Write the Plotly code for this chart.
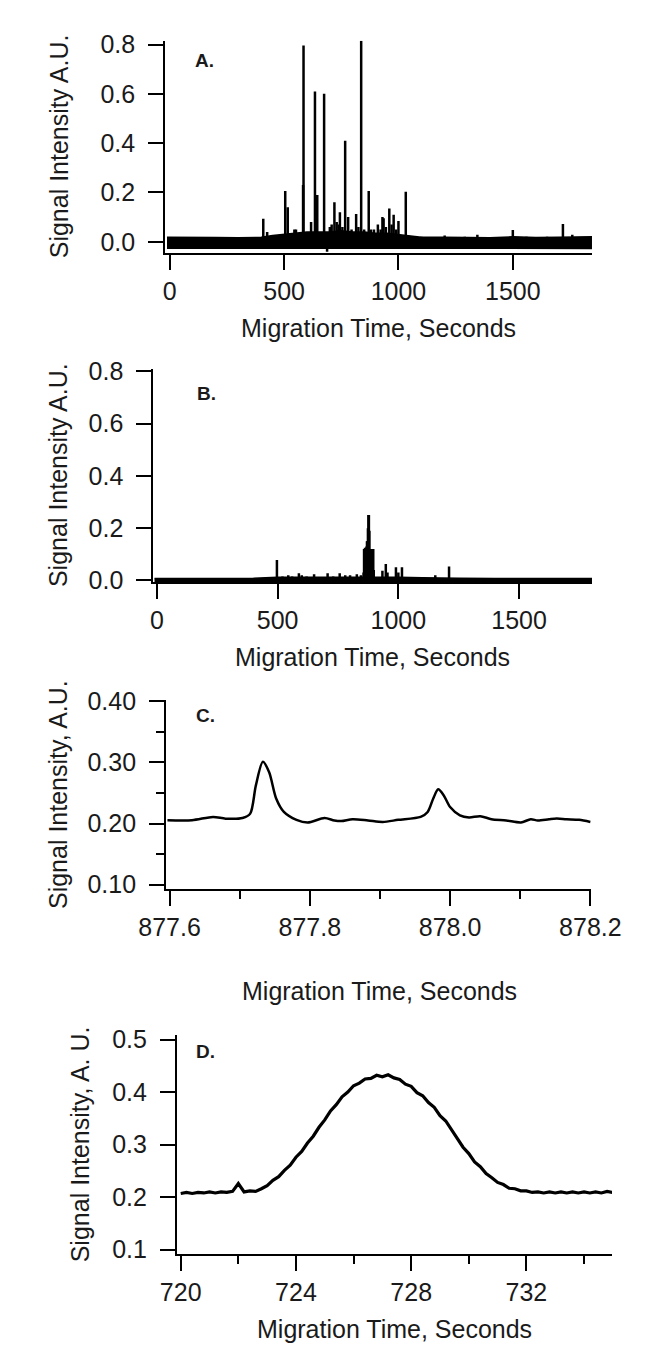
import plotly.graph_objects as go

W, H = 645, 1345
FONT = "Liberation Sans, Arial, sans-serif"
TXT = "#1a1a1a"

# ---------------- Panel A data ----------------
a_peak_t = [409, 426, 505, 516, 545, 552, 583, 585, 603, 618, 635, 645, 660, 675, 688,
            700, 708, 720, 730, 740, 744, 755, 767, 780, 795, 815, 825, 837, 850, 858,
            870, 880, 893, 910, 922, 930, 935, 945, 960, 970, 979, 990, 1000, 1032,
            1100, 1202, 1290, 1345, 1500, 1560, 1650, 1719, 1760]
a_peak_h = [0.093, 0.040, 0.206, 0.140, 0.050, 0.050, 0.230, 0.796, 0.040, 0.080, 0.610, 0.190, 0.040, 0.600, -0.040,
            0.060, 0.070, 0.160, 0.080, 0.070, 0.120, 0.060, 0.410, 0.100, 0.050, 0.113, 0.060, 0.816, 0.050, 0.040,
            0.206, 0.050, 0.050, 0.070, 0.050, 0.100, 0.095, 0.060, 0.135, 0.070, 0.110, 0.050, 0.084, 0.203,
            0.020, 0.025, 0.020, 0.028, 0.048, 0.020, 0.020, 0.072, 0.028]
a_env_t = [-12, 100, 200, 300, 400, 450, 500, 550, 600, 650, 700, 750, 800, 850, 900, 950,
           1000, 1050, 1100, 1200, 1300, 1400, 1500, 1600, 1700, 1800, 1846]
a_env_hi = [0.018, 0.016, 0.017, 0.016, 0.018, 0.025, 0.030, 0.035, 0.040, 0.040, 0.040, 0.045, 0.040, 0.040, 0.035, 0.035,
            0.030, 0.022, 0.018, 0.018, 0.018, 0.016, 0.020, 0.017, 0.018, 0.020, 0.020]
a_env_lo = [-0.026, -0.027, -0.026, -0.027, -0.026, -0.027, -0.028, -0.028, -0.028, -0.027, -0.028, -0.028, -0.027, -0.028, -0.027, -0.027,
            -0.026, -0.027, -0.026, -0.027, -0.026, -0.027, -0.026, -0.027, -0.026, -0.027, -0.027]

# ---------------- Panel B data ----------------
b_peak_t = [497, 520, 544, 560, 588, 600, 620, 651, 680, 707, 730, 757, 780, 800, 828, 845,
            856, 858, 860, 862, 864, 866, 868, 870, 872, 874, 876, 878, 880, 882, 884, 886, 888, 890, 892, 894, 896, 898,
            934, 948, 955, 990, 1000, 1015, 1050, 1100, 1153, 1210, 1650]
b_peak_h = [0.078, 0.015, 0.020, 0.015, 0.027, 0.020, 0.015, 0.024, 0.012, 0.027, 0.015, 0.027, 0.020, 0.020, 0.024, 0.020,
            0.030, 0.120, 0.120, 0.125, 0.120, 0.122, 0.130, 0.150, 0.150, 0.200, 0.250, 0.250, 0.190, 0.120, 0.120, 0.118, 0.120, 0.110, 0.120, 0.118, 0.120, 0.040,
            0.037, 0.063, 0.030, 0.050, 0.030, 0.050, 0.010, 0.008, 0.020, 0.053, 0.006]
b_env_t = [-10, 200, 400, 450, 500, 600, 700, 800, 900, 1000, 1100, 1200, 1250, 1400, 1600, 1802]
b_env_hi = [0.007, 0.007, 0.008, 0.010, 0.012, 0.012, 0.012, 0.014, 0.014, 0.012, 0.010, 0.010, 0.008, 0.007, 0.007, 0.007]
b_env_lo = [-0.012, -0.012, -0.012, -0.012, -0.012, -0.012, -0.012, -0.012, -0.012, -0.012, -0.012, -0.012, -0.012, -0.012, -0.012, -0.012]

# ---------------- Panel C data ----------------
c_t = [877.597, 877.632, 877.662, 877.680, 877.704, 877.715, 877.723, 877.733, 877.742, 877.752,
       877.763, 877.781, 877.797, 877.821, 877.835, 877.845, 877.861, 877.883, 877.904, 877.926,
       877.958, 877.968, 877.976, 877.983, 877.991, 878.000, 878.014, 878.027, 878.043, 878.059,
       878.080, 878.101, 878.115, 878.125, 878.141, 878.152, 878.166, 878.184, 878.200]
c_v = [0.2054, 0.2054, 0.2108, 0.2080, 0.2090, 0.2162, 0.2620, 0.3010, 0.2840, 0.2410,
       0.2190, 0.2060, 0.2017, 0.2090, 0.2050, 0.2040, 0.2070, 0.2050, 0.2026, 0.2060,
       0.2108, 0.2189, 0.2410, 0.2560, 0.2460, 0.2270, 0.2135, 0.2100, 0.2120, 0.2070,
       0.2050, 0.2017, 0.2070, 0.2050, 0.2070, 0.2081, 0.2070, 0.2060, 0.2026]

# ---------------- Panel D data ----------------
d_t = [720.0, 720.2, 720.4, 720.6, 720.8, 721.0, 721.2, 721.4, 721.6, 721.8,
       722.0, 722.2, 722.4, 722.6, 722.8, 723.0, 723.2, 723.4, 723.6, 723.8,
       724.0, 724.2, 724.4, 724.6, 724.8, 725.0, 725.2, 725.4, 725.6, 725.8,
       726.0, 726.2, 726.4, 726.6, 726.8, 727.0, 727.2, 727.4, 727.6, 727.8,
       728.0, 728.2, 728.4, 728.6, 728.8, 729.0, 729.2, 729.4, 729.6, 729.8,
       730.0, 730.2, 730.4, 730.6, 730.8, 731.0, 731.2, 731.4, 731.6, 731.8,
       732.0, 732.2, 732.4, 732.6, 732.8, 733.0, 733.2, 733.4, 733.6, 733.8,
       734.0, 734.2, 734.4, 734.6, 734.8, 735.0]
d_v = [0.207, 0.209, 0.207, 0.209, 0.208, 0.210, 0.208, 0.210, 0.209, 0.211,
       0.226, 0.210, 0.212, 0.211, 0.216, 0.222, 0.232, 0.239, 0.251, 0.261,
       0.276, 0.287, 0.303, 0.316, 0.333, 0.347, 0.364, 0.376, 0.391, 0.400,
       0.412, 0.417, 0.425, 0.426, 0.432, 0.429, 0.433, 0.427, 0.424, 0.415,
       0.411, 0.399, 0.393, 0.380, 0.371, 0.355, 0.345, 0.328, 0.312, 0.295,
       0.283, 0.267, 0.258, 0.245, 0.237, 0.228, 0.224, 0.217, 0.216, 0.212,
       0.212, 0.209, 0.210, 0.208, 0.210, 0.208, 0.210, 0.208, 0.210, 0.208,
       0.210, 0.208, 0.210, 0.208, 0.211, 0.209]

# ---------------- tick labels ----------------
ab_xticks = [0, 500, 1000, 1500]
ab_yticks = [0.0, 0.2, 0.4, 0.6, 0.8]
c_xticks = [877.6, 877.8, 878.0, 878.2]
c_xminor = [877.7, 877.9, 878.1]
c_yticks = [0.10, 0.20, 0.30, 0.40]
c_yminor = [0.15, 0.25, 0.35]
d_xticks = [720, 724, 728, 732]
d_xminor = [722, 726, 730, 734]
d_yticks = [0.1, 0.2, 0.3, 0.4, 0.5]

x_title = "Migration Time, Seconds"
y_titles = ["Signal Intensity A.U.", "Signal Intensity A.U.",
            "Signal Intensity, A.U.", "Signal Intensity, A. U."]
panel_labels = ["A.", "B.", "C.", "D."]


def sticks(ts, hs):
    xs, ys = [], []
    for t, h in zip(ts, hs):
        xs += [t, t, None]
        ys += [0, h, None]
    return xs, ys


def band(ts, hi, lo):
    return list(ts) + list(ts)[::-1], list(hi) + list(lo)[::-1]


fig = go.Figure()

# A
bx, by = band(a_env_t, a_env_hi, a_env_lo)
fig.add_trace(go.Scatter(x=bx, y=by, fill="toself", fillcolor="black", mode="lines",
                         line=dict(color="black", width=1.5), xaxis="x", yaxis="y", hoverinfo="skip"))
sx, sy = sticks(a_peak_t, a_peak_h)
fig.add_trace(go.Scatter(x=sx, y=sy, mode="lines", line=dict(color="black", width=2.5),
                         xaxis="x", yaxis="y"))
# B
bx, by = band(b_env_t, b_env_hi, b_env_lo)
fig.add_trace(go.Scatter(x=bx, y=by, fill="toself", fillcolor="black", mode="lines",
                         line=dict(color="black", width=1.5), xaxis="x2", yaxis="y2", hoverinfo="skip"))
sx, sy = sticks(b_peak_t, b_peak_h)
fig.add_trace(go.Scatter(x=sx, y=sy, mode="lines", line=dict(color="black", width=2.5),
                         xaxis="x2", yaxis="y2"))
# C
fig.add_trace(go.Scatter(x=c_t, y=c_v, mode="lines",
                         line=dict(color="black", width=2.5, shape="spline", smoothing=0.8),
                         xaxis="x3", yaxis="y3"))
# D
fig.add_trace(go.Scatter(x=d_t, y=d_v, mode="lines", line=dict(color="black", width=3.2),
                         xaxis="x4", yaxis="y4"))


def dx(l, r):
    return [l / W, r / W]


def dy(top, bot):
    return [1 - bot / H, 1 - top / H]


common = dict(showline=True, linecolor="black", linewidth=2, ticks="outside", ticklen=15,
              tickwidth=2, tickcolor="black", showgrid=False, zeroline=False, mirror=False,
              tickfont=dict(family=FONT, size=25, color=TXT), fixedrange=True)

fig.update_layout(
    width=W, height=H, autosize=False, margin=dict(l=0, r=0, t=0, b=0),
    paper_bgcolor="white", plot_bgcolor="white", showlegend=False,
    xaxis=dict(common, domain=dx(143, 612), anchor="y", range=[-20, 1846], tickvals=ab_xticks),
    yaxis=dict(common, domain=dy(20, 236), anchor="x", range=[-0.044, 0.816], tickvals=ab_yticks,
               tickformat=".1f", ticklabelstandoff=8),
    xaxis2=dict(common, domain=dx(130, 612), anchor="y2", range=[-15, 1802], tickvals=ab_xticks),
    yaxis2=dict(common, domain=dy(355, 572), anchor="x2", range=[-0.0075, 0.8075], tickvals=ab_yticks,
                tickformat=".1f", ticklabelstandoff=8),
    xaxis3=dict(common, domain=dx(144, 611), anchor="y3", range=[877.595, 878.201], tickvals=c_xticks,
                tickformat=".1f",
                minor=dict(ticks="outside", ticklen=8, tickwidth=2, tickcolor="black", tickvals=c_xminor)),
    yaxis3=dict(common, domain=dy(692, 884), anchor="x3", range=[0.0935, 0.402], tickvals=c_yticks,
                tickformat=".2f", ticklabelstandoff=8,
                minor=dict(ticks="outside", ticklen=8, tickwidth=2, tickcolor="black", tickvals=c_yminor)),
    xaxis4=dict(common, domain=dx(156, 634), anchor="y4", range=[719.87, 734.97], tickvals=d_xticks,
                minor=dict(ticks="outside", ticklen=8, tickwidth=2, tickcolor="black", tickvals=d_xminor)),
    yaxis4=dict(common, domain=dy(1033, 1256), anchor="x4", range=[0.0925, 0.509], tickvals=d_yticks,
                tickformat=".1f", ticklabelstandoff=8),
)

ann = []
x_title_pos = [(377, 313), (371, 648), (378, 988), (395, 1333)]
y_title_pos = [(26, 128), (26, 463), (26, 788), (49, 1145)]
label_pos = [(186, 40), (188, 380), (187, 708), (187, 1050)]
for (px, py) in x_title_pos:
    ann.append(dict(text=x_title, x=px / W, y=1 - py / H, xref="paper", yref="paper",
                    xanchor="center", yanchor="middle", showarrow=False,
                    font=dict(family=FONT, size=25, color=TXT)))
for (px, py), t in zip(y_title_pos, y_titles):
    ann.append(dict(text=t, x=px / W, y=1 - py / H, xref="paper", yref="paper", textangle=-90,
                    xanchor="center", yanchor="middle", showarrow=False,
                    font=dict(family=FONT, size=25, color=TXT)))
for (px, py), t in zip(label_pos, panel_labels):
    ann.append(dict(text="<b>" + t + "</b>", x=px / W, y=1 - py / H, xref="paper", yref="paper",
                    xanchor="center", yanchor="middle", showarrow=False,
                    font=dict(family=FONT, size=19, color=TXT)))
fig.update_layout(annotations=ann)

fig.write_html("out.html")
